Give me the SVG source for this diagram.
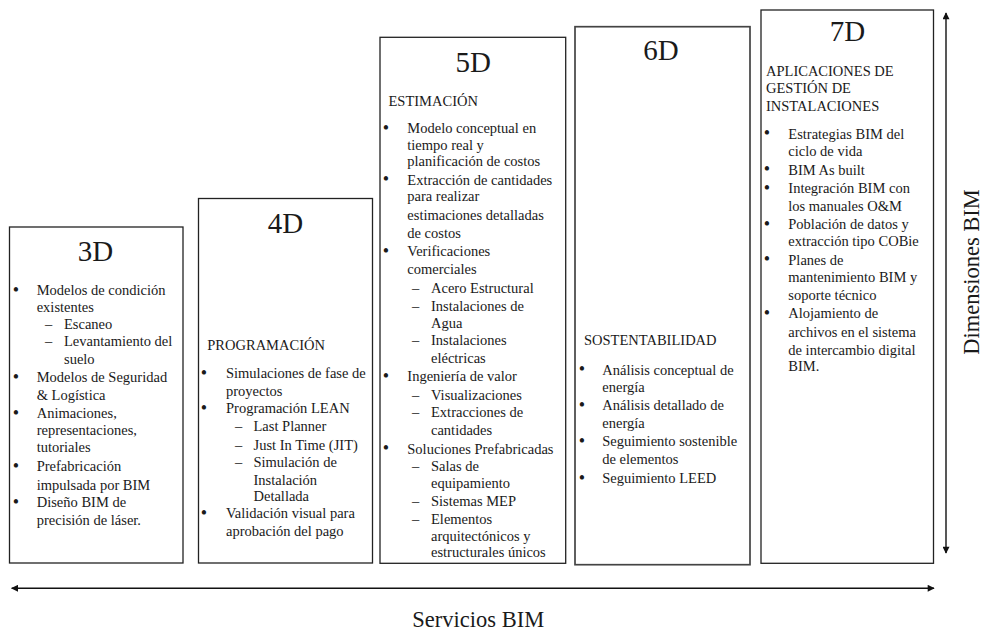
<svg xmlns="http://www.w3.org/2000/svg" width="983" height="632" viewBox="0 0 983 632">
  <style>
    .box { fill: #ffffff; stroke: #222222; stroke-width: 1.3; }
    .box6 { fill: #ffffff; stroke: #444444; stroke-width: 1.7; }
    text { font-family: "Liberation Serif", "Times New Roman", serif; fill: #1a1a1a; }
    .title { font-size: 29px; text-anchor: middle; }
    .t { font-size: 14.5px; }
    .b { font-size: 18px; text-anchor: middle; }
    .axis { font-size: 22.5px; text-anchor: middle; }
    .conn { stroke: #111111; stroke-width: 1.4; fill: none; }
  </style>
  <defs>
    <marker id="head" viewBox="0 0 10 10" refX="9" refY="5" markerWidth="8" markerHeight="7" markerUnits="userSpaceOnUse" orient="auto-start-reverse">
      <path d="M0,0 L10,5 L0,10 z" fill="#111111"/>
    </marker>
  </defs>

  <!-- 3D -->
  <g id="dim-3d">
    <rect class="box" x="9.5" y="227" width="173.5" height="336"/>
    <text class="title" x="95.5" y="261">3D</text>
    <text class="b" x="16" y="296">•</text>
    <text class="t" x="36.7" y="295.2">Modelos de condición</text>
    <text class="t" x="36.7" y="311.8">existentes</text>
    <text class="t" x="45" y="328.5">–</text>
    <text class="t" x="64" y="328.5">Escaneo</text>
    <text class="t" x="45" y="346.2">–</text>
    <text class="t" x="64" y="346.2">Levantamiento del</text>
    <text class="t" x="64" y="363.8">suelo</text>
    <text class="b" x="16" y="383">•</text>
    <text class="t" x="36.7" y="382.2">Modelos de Seguridad</text>
    <text class="t" x="36.7" y="399.5">&amp; Logística</text>
    <text class="b" x="16" y="418.6">•</text>
    <text class="t" x="36.7" y="417.8">Animaciones,</text>
    <text class="t" x="36.7" y="435.2">representaciones,</text>
    <text class="t" x="36.7" y="452.2">tutoriales</text>
    <text class="b" x="16" y="472">•</text>
    <text class="t" x="36.7" y="471.2">Prefabricación</text>
    <text class="t" x="36.7" y="489.5">impulsada por BIM</text>
    <text class="b" x="16" y="508">•</text>
    <text class="t" x="36.7" y="507.2">Diseño BIM de</text>
    <text class="t" x="36.7" y="524.5">precisión de láser.</text>
  </g>

  <!-- 4D -->
  <g id="dim-4d">
    <rect class="box" x="198.5" y="198.5" width="174" height="364.5"/>
    <text class="title" x="285.5" y="233">4D</text>
    <text class="t" x="207.3" y="349.5">PROGRAMACIÓN</text>
    <text class="b" x="204" y="378.6">•</text>
    <text class="t" x="226" y="377.8">Simulaciones de fase de</text>
    <text class="t" x="226" y="395.5">proyectos</text>
    <text class="b" x="204" y="413.6">•</text>
    <text class="t" x="226" y="412.8">Programación LEAN</text>
    <text class="t" x="235" y="431.2">–</text>
    <text class="t" x="253.5" y="431.2">Last Planner</text>
    <text class="t" x="235" y="449.5">–</text>
    <text class="t" x="253.5" y="449.5">Just In Time (JIT)</text>
    <text class="t" x="235" y="467.2">–</text>
    <text class="t" x="253.5" y="467.2">Simulación de</text>
    <text class="t" x="253.5" y="484.5">Instalación</text>
    <text class="t" x="253.5" y="501.2">Detallada</text>
    <text class="b" x="204" y="518.6">•</text>
    <text class="t" x="226" y="517.8">Validación visual para</text>
    <text class="t" x="226" y="536.2">aprobación del pago</text>
  </g>

  <!-- 5D -->
  <g id="dim-5d">
    <rect class="box" x="380" y="37.3" width="185.7" height="526"/>
    <text class="title" x="473.3" y="72">5D</text>
    <text class="t" x="388.5" y="106.2">ESTIMACIÓN</text>
    <text class="b" x="386" y="133.6">•</text>
    <text class="t" x="407.3" y="132.8">Modelo conceptual en</text>
    <text class="t" x="407.3" y="149.5">tiempo real y</text>
    <text class="t" x="407.3" y="166.2">planificación de costos</text>
    <text class="b" x="386" y="185.3">•</text>
    <text class="t" x="407.3" y="184.5">Extracción de cantidades</text>
    <text class="t" x="407.3" y="201.2">para realizar</text>
    <text class="t" x="407.3" y="219.5">estimaciones detalladas</text>
    <text class="t" x="407.3" y="237.8">de costos</text>
    <text class="b" x="386" y="257">•</text>
    <text class="t" x="407.3" y="256.2">Verificaciones</text>
    <text class="t" x="407.3" y="273.8">comerciales</text>
    <text class="t" x="412" y="292.8">–</text>
    <text class="t" x="431" y="292.8">Acero Estructural</text>
    <text class="t" x="412" y="310.5">–</text>
    <text class="t" x="431" y="310.5">Instalaciones de</text>
    <text class="t" x="431" y="327.5">Agua</text>
    <text class="t" x="412" y="345.2">–</text>
    <text class="t" x="431" y="345.2">Instalaciones</text>
    <text class="t" x="431" y="362.8">eléctricas</text>
    <text class="b" x="386" y="382">•</text>
    <text class="t" x="407.3" y="381.2">Ingeniería de valor</text>
    <text class="t" x="412" y="399.5">–</text>
    <text class="t" x="431" y="399.5">Visualizaciones</text>
    <text class="t" x="412" y="417.2">–</text>
    <text class="t" x="431" y="417.2">Extracciones de</text>
    <text class="t" x="431" y="434.5">cantidades</text>
    <text class="b" x="386" y="454.3">•</text>
    <text class="t" x="407.3" y="453.5">Soluciones Prefabricadas</text>
    <text class="t" x="412" y="471.2">–</text>
    <text class="t" x="431" y="471.2">Salas de</text>
    <text class="t" x="431" y="487.8">equipamiento</text>
    <text class="t" x="412" y="506.2">–</text>
    <text class="t" x="431" y="506.2">Sistemas MEP</text>
    <text class="t" x="412" y="523.5">–</text>
    <text class="t" x="431" y="523.5">Elementos</text>
    <text class="t" x="431" y="541.2">arquitectónicos y</text>
    <text class="t" x="431" y="557.3">estructurales únicos</text>
  </g>

  <!-- 6D -->
  <g id="dim-6d">
    <rect class="box6" x="575" y="26.7" width="175" height="538"/>
    <text class="title" x="661" y="59.6">6D</text>
    <text class="t" x="584" y="345.2">SOSTENTABILIDAD</text>
    <text class="b" x="582" y="375.3">•</text>
    <text class="t" x="602.3" y="374.5">Análisis conceptual de</text>
    <text class="t" x="602.3" y="391.8">energía</text>
    <text class="b" x="582" y="411">•</text>
    <text class="t" x="602.3" y="410.2">Análisis detallado de</text>
    <text class="t" x="602.3" y="427.8">energía</text>
    <text class="b" x="582" y="447">•</text>
    <text class="t" x="602.3" y="446.2">Seguimiento sostenible</text>
    <text class="t" x="602.3" y="463.5">de elementos</text>
    <text class="b" x="582" y="483.6">•</text>
    <text class="t" x="602.3" y="482.8">Seguimiento LEED</text>
  </g>

  <!-- 7D -->
  <g id="dim-7d">
    <rect class="box" x="761" y="10" width="172.5" height="553.3"/>
    <text class="title" x="847.5" y="41.3">7D</text>
    <text class="t" x="766" y="75.5">APLICACIONES DE</text>
    <text class="t" x="766" y="92.5">GESTIÓN DE</text>
    <text class="t" x="766" y="110.8">INSTALACIONES</text>
    <text class="b" x="767" y="139.3">•</text>
    <text class="t" x="788.3" y="138.5">Estrategias BIM del</text>
    <text class="t" x="788.3" y="156.2">ciclo de vida</text>
    <text class="b" x="767" y="175.3">•</text>
    <text class="t" x="788.3" y="174.5">BIM As built</text>
    <text class="b" x="767" y="193.6">•</text>
    <text class="t" x="788.3" y="192.8">Integración BIM con</text>
    <text class="t" x="788.3" y="210.5">los manuales O&amp;M</text>
    <text class="b" x="767" y="229.6">•</text>
    <text class="t" x="788.3" y="228.8">Población de datos y</text>
    <text class="t" x="788.3" y="246.2">extracción tipo COBie</text>
    <text class="b" x="767" y="265.3">•</text>
    <text class="t" x="788.3" y="264.5">Planes de</text>
    <text class="t" x="788.3" y="282.2">mantenimiento BIM y</text>
    <text class="t" x="788.3" y="299.5">soporte técnico</text>
    <text class="b" x="767" y="318.6">•</text>
    <text class="t" x="788.3" y="317.8">Alojamiento de</text>
    <text class="t" x="788.3" y="337.2">archivos en el sistema</text>
    <text class="t" x="788.3" y="354.5">de intercambio digital</text>
    <text class="t" x="788.3" y="371.2">BIM.</text>
  </g>

  <!-- axes -->
  <g id="connectors">
    <line class="conn" x1="946" y1="553" x2="946" y2="13" marker-start="url(#head)" marker-end="url(#head)"/>
    <line class="conn" x1="11.7" y1="588.3" x2="934" y2="588.3" marker-start="url(#head)" marker-end="url(#head)"/>
  </g>
  <text class="axis" x="478.3" y="627">Servicios BIM</text>
  <text class="axis" transform="translate(979,272) rotate(-90)" x="0" y="0">Dimensiones BIM</text>
</svg>
